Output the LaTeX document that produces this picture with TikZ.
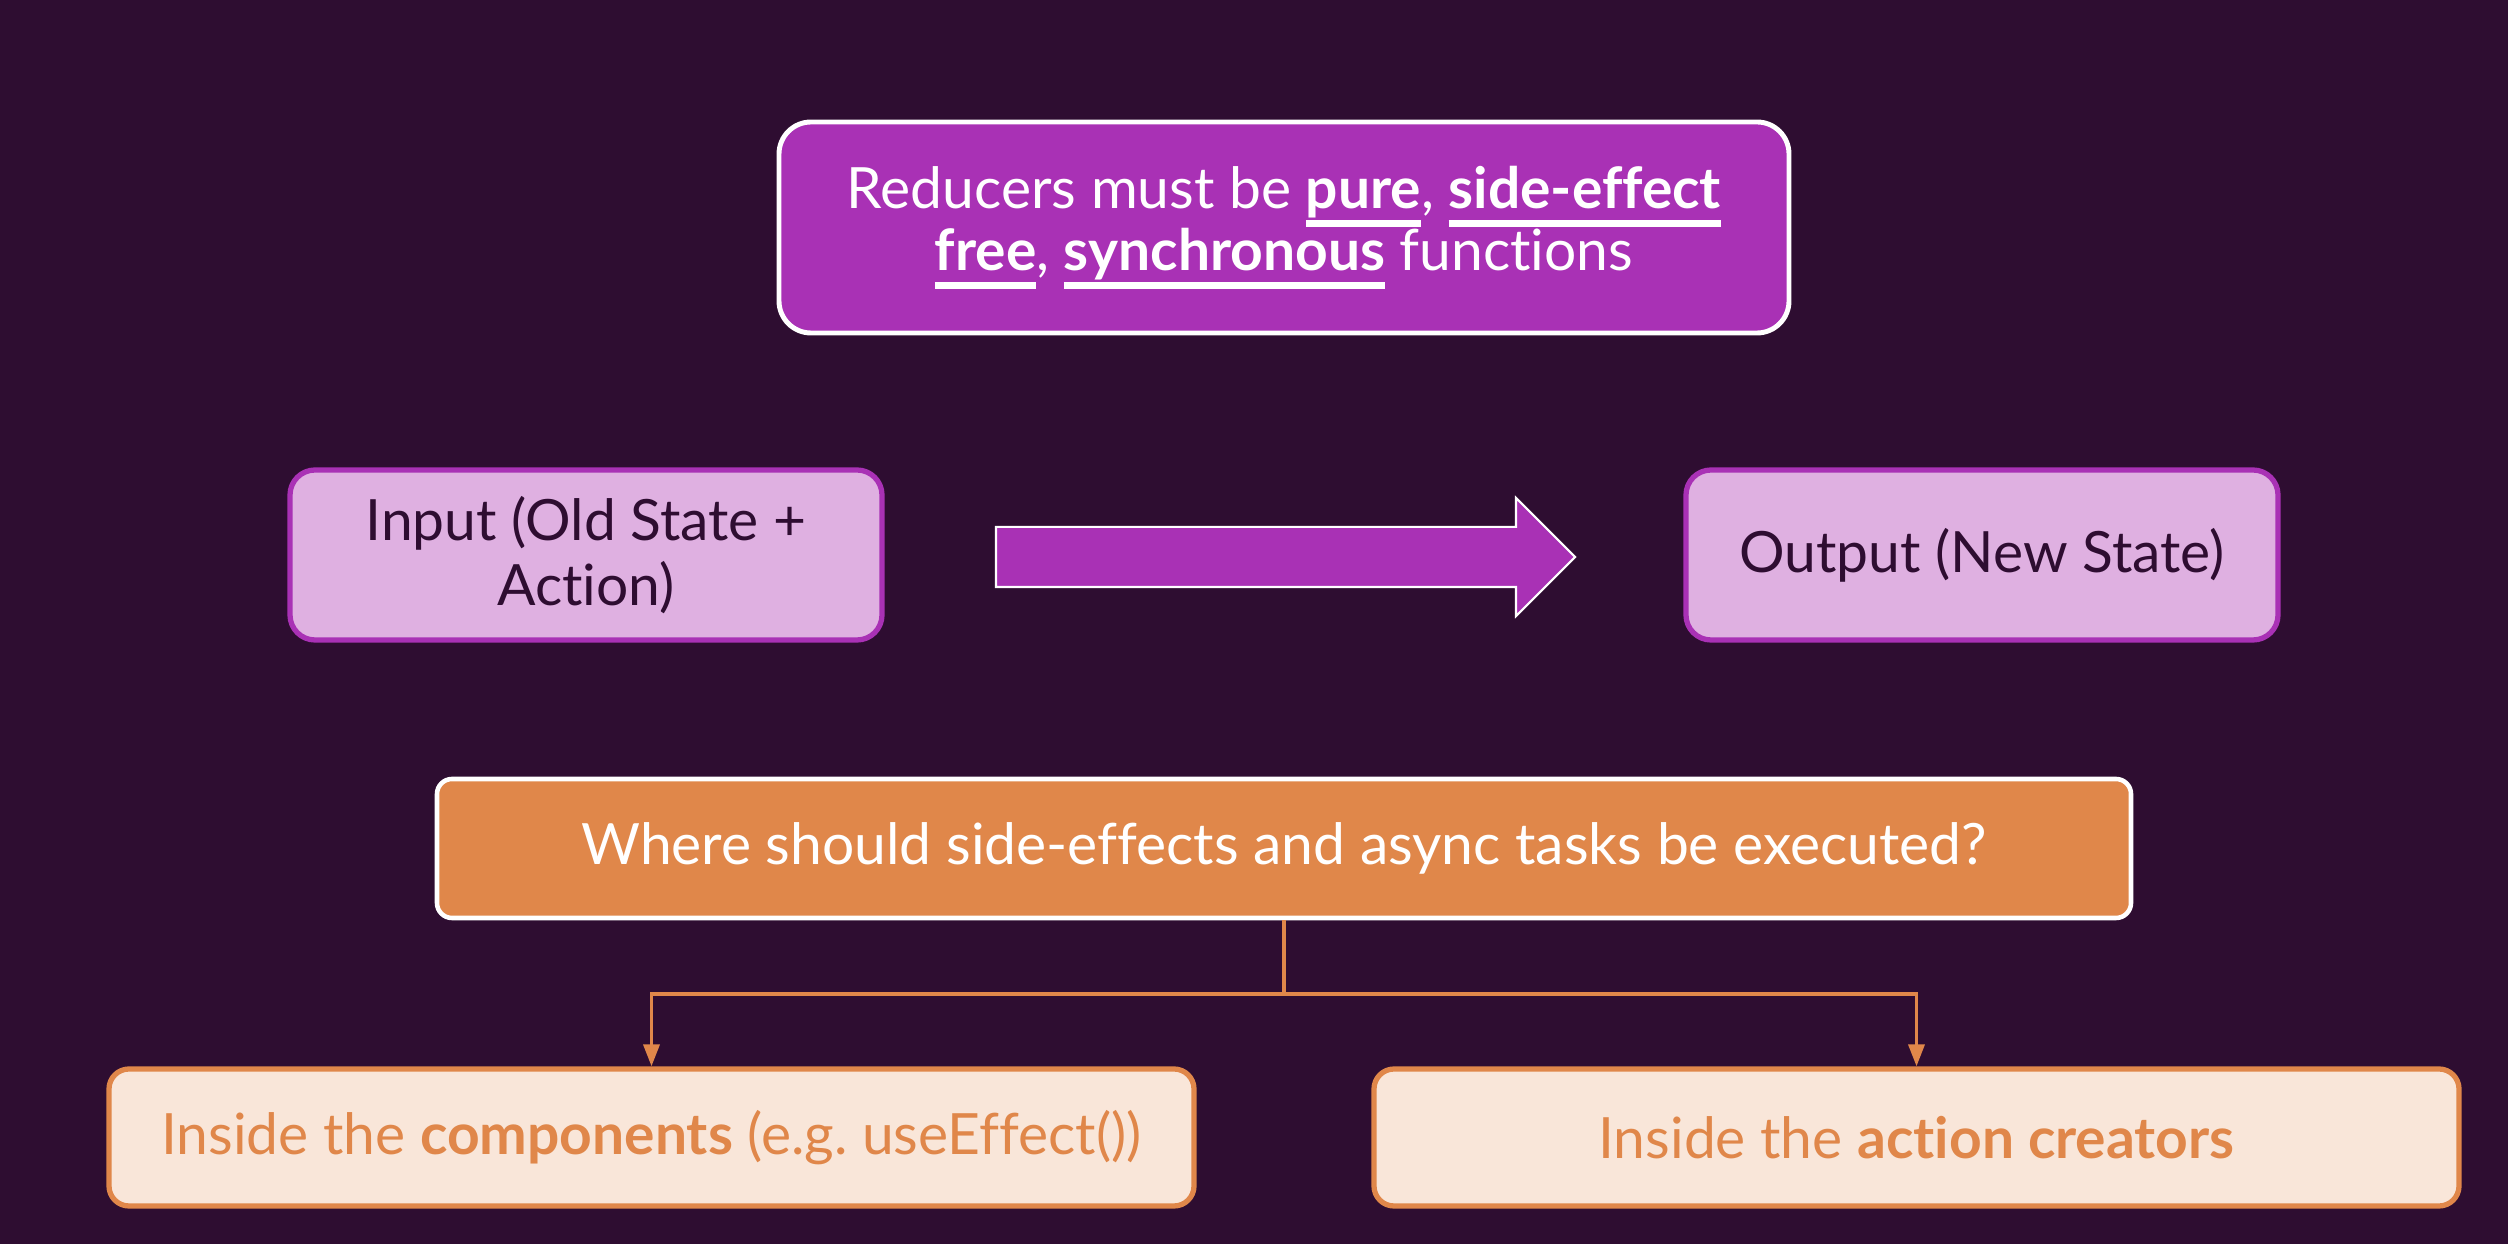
\documentclass[tikz,border=0pt]{standalone}
\usepackage{fontspec}
\setmainfont{Lato}[Ligatures=NoCommon]
\usetikzlibrary{
  shapes,       % single arrow
  arrows.meta,
  positioning,
}
\newsavebox{\ubbox}
\newcommand{\ub}[1]{%
  \sbox{\ubbox}{\textbf{#1}}%
  \rlap{\rule[-0.32em]{\wd\ubbox}{1.8pt}}\usebox{\ubbox}}
\definecolor{bgdark}{HTML}{2E0D31}
\definecolor{redpurple}{HTML}{A931B5}
\definecolor{lightpurple}{HTML}{DFB0E1}
\definecolor{redorange}{HTML}{E0874A}
\definecolor{lightpeach}{HTML}{F9E6D9}
\def\mytxt{\fontsize{16.2}{17.6}\selectfont}
\tikzset{
  every node/.style={font=\mytxt, align=center, inner sep=0mm},
  my title/.style={
    draw=white, fill=redpurple, text=white,
    line width=1.4pt, rounded corners=3.2mm,
    minimum width=10.1cm, minimum height=2.11cm
  },
  my state/.style={
    draw=redpurple, fill=lightpurple, text=bgdark,
    line width=1.5pt, rounded corners=2.5mm,
    minimum width=5.92cm, minimum height=1.7cm
  },
  my flow/.style={
    single arrow, draw=white, fill=redpurple, line width=0.6pt,
    inner xsep=0mm, inner ysep=2.9mm,
    minimum height=5.79cm,
    single arrow head extend=2.9mm, single arrow head indent=0mm
  },
  my question/.style={
    draw=white, fill=redorange, text=white,
    line width=1.3pt, rounded corners=1.5mm,
    minimum width=16.94cm, minimum height=1.39cm
  },
  my answer/.style={
    draw=redorange, fill=lightpeach, text=redorange,
    line width=1.5pt, rounded corners=2mm,
    minimum width=10.85cm, minimum height=1.37cm
  },
  my link/.style={
    draw=redorange, line width=1pt,
    -{Triangle[length=2.2mm,width=1.6mm]}
  }
}
\begin{document}
\begin{tikzpicture}
\fill[bgdark] (0,0) rectangle (25.08,12.44);
\useasboundingbox (0,0) rectangle (25.08,12.44);

\node[my title] (rules) at (12.84,10.165)
  {Reducers must be \ub{pure}, \ub{side-effect}\\\ub{free}, \ub{synchronous} functions};

\node[my state] (input)  at (5.86,6.89)  {Input (Old State +\\[1.1pt]Action)};
\node[my state] (output) at (19.82,6.89) {Output (New State)};
\node[my flow]  (flow)   at (12.705,6.87) {};

\node[my question] (where) at (12.84,3.955)
  {Where should side-effects and async tasks be executed?};
\node[my answer] (comp) at (6.515,1.065)
  {Inside the \textbf{components} (e.g.\ useEffect())};
\node[my answer] (creators) at (19.165,1.065)
  {Inside the \textbf{action creators}};

\coordinate (fork) at (where.south |- 0,2.5);
\draw[redorange, line width=1pt] (where.south) -- (fork);
\draw[my link] (fork) -| (comp.north);
\draw[my link] (fork) -| (creators.north);
\end{tikzpicture}
\end{document}
